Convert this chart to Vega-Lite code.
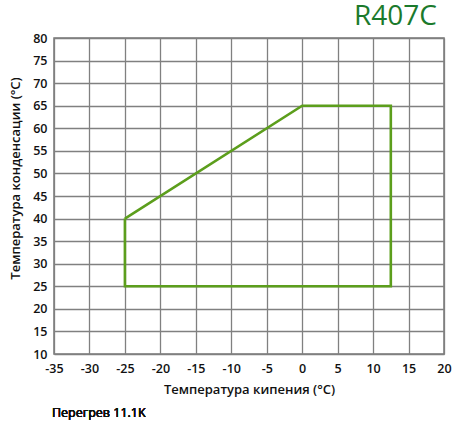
{
  "$schema": "https://vega.github.io/schema/vega-lite/v6.json",
  "width": 390,
  "height": 316,
  "autosize": {"type": "none"},
  "padding": {"left": 54, "top": 38, "right": 17, "bottom": 67},
  "background": "white",
  "title": {
    "text": "R407C",
    "anchor": "end",
    "frame": "group",
    "fontSize": 28,
    "font": "Open Sans",
    "fontWeight": "normal",
    "color": "#1b7a2c",
    "offset": 1,
    "dx": -7
  },
  "config": {
    "view": {"stroke": "#777777", "strokeWidth": 1.5},
    "font": "Open Sans",
    "axis": {
      "grid": true,
      "gridColor": "#808080",
      "gridWidth": 1.3,
      "gridOpacity": 1,
      "domain": false,
      "ticks": false,
      "labelOverlap": false,
      "labelFont": "Open Sans",
      "labelFontSize": 12.5,
      "labelFontWeight": 600,
      "labelColor": "#111111",
      "titleFont": "Open Sans",
      "titleFontSize": 13,
      "titleFontWeight": 600,
      "titleColor": "#111111",
      "labelExpr": "'' + datum.value"
    }
  },
  "data": {
    "values": [
      {"i": 1, "te": -25, "tc": 40},
      {"i": 2, "te": 0, "tc": 65},
      {"i": 3, "te": 12.5, "tc": 65},
      {"i": 4, "te": 12.5, "tc": 25},
      {"i": 5, "te": -25, "tc": 25},
      {"i": 6, "te": -25, "tc": 40}
    ]
  },
  "layer": [
    {
      "mark": {"type": "line", "color": "#5c9e1c", "strokeWidth": 2.6, "strokeJoin": "miter"},
      "encoding": {
        "x": {
          "field": "te",
          "type": "quantitative",
          "scale": {"domain": [-35, 20], "nice": false},
          "axis": {"values": [-35, -30, -25, -20, -15, -10, -5, 0, 5, 10, 15, 20], "tickCount": 12, "labelPadding": 8, "title": "Температура кипения (°C)", "titlePadding": 9, "labelFlush": false}
        },
        "y": {
          "field": "tc",
          "type": "quantitative",
          "scale": {"domain": [10, 80], "nice": false},
          "axis": {"values": [10, 15, 20, 25, 30, 35, 40, 45, 50, 55, 60, 65, 70, 75, 80], "tickCount": 15, "labelPadding": 7, "title": "Температура конденсации (°C)", "titlePadding": 10, "titleY": 140, "labelFlush": false}
        },
        "order": {"field": "i", "type": "quantitative"}
      }
    },
    {
      "mark": {"type": "text", "text": "Перегрев 11.1K", "align": "left", "baseline": "alphabetic", "dx": -2, "dy": 63, "fontSize": 12.5, "font": "Open Sans", "fontWeight": 400, "color": "#111111"},
      "encoding": {
        "x": {"datum": -35},
        "y": {"datum": 10}
      }
    }
  ]
}
